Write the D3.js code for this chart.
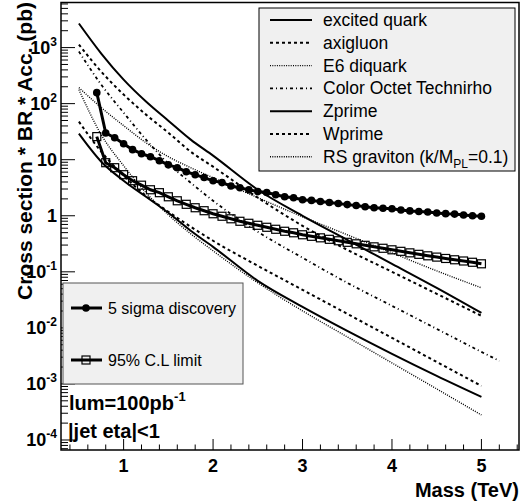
<!DOCTYPE html>
<html><head><meta charset="utf-8">
<script src="https://cdn.jsdelivr.net/npm/d3@7"></script>
<style>
html,body{margin:0;padding:0;background:#fff;}
svg{display:block;font-family:"Liberation Sans",Arial,Helvetica,sans-serif;}
</style></head>
<body>
<svg id="c" width="521" height="504"></svg>
<script>
// ---- data (cross section * BR * Acc in pb vs mass in TeV) ----
const theoryMass = [0.5,0.75,1.0,1.25,1.5,1.75,2.0,2.5,3.0,3.5,4.0,4.5,5.0];
const excitedQuark = [2685,782,268,109,49.6,22.8,11.8,2.91,1.0,0.372,0.139,0.0518,0.0185];
const axigluon     = [1132,372,145,63.7,30.3,13.9,7.5,2.1,0.663,0.247,0.100,0.0405,0.0164];
const e6Diquark    = [193,84.9,40.5,20.1,11.3,7.2,4.77,2.1,0.96,0.458,0.218,0.104,0.0518];
const technirhoMass = [0.5,0.75,1.0,1.25,1.5,1.75,2.0,2.5,3.0,3.5,4.0,4.5,5.0,5.2];
const technirho    = [848,218,69,22.8,8.49,3.88,1.85,0.518,0.178,0.0637,0.0247,0.0096,0.00373,0.00258];
const zprime       = [29.1,9.2,4.22,2.18,1.13,0.54,0.279,0.069,0.0237,0.00884,0.00344,0.00139,0.000586];
const wprime       = [47.7,13.9,5.18,2.28,1.18,0.637,0.358,0.128,0.0477,0.0178,0.00663,0.00247,0.00092];
const rsGraviton   = [178,27.9,7.81,2.58,1.04,0.477,0.237,0.0637,0.0201,0.0069,0.00237,0.000815,0.000279];

const sensMass = [0.7,0.8,0.9,1.0,1.1,1.2,1.3,1.4,1.5,1.6,1.7,1.8,1.9,2.0,2.1,2.2,2.3,2.4,2.5,2.6,2.7,2.8,2.9,3.0,
  3.1,3.2,3.3,3.4,3.5,3.6,3.7,3.8,3.9,4.0,4.1,4.2,4.3,4.4,4.5,4.6,4.7,4.8,4.9,5.0];
const discovery5sigma = [157,30,24.7,19.3,15.1,12.8,11.3,9.6,8.1,7.2,6.1,5.4,4.8,4.2,3.9,3.4,3.16,2.9,2.7,2.6,2.37,2.18,2.1,1.93,
  1.88,1.8,1.72,1.65,1.58,1.52,1.45,1.39,1.36,1.33,1.27,1.22,1.19,1.17,1.12,1.09,1.07,1.03,1.0,0.98];
const limit95 = [25.8,8.84,7.2,5.4,4.22,3.51,2.91,2.58,2.18,1.85,1.6,1.39,1.23,1.086,0.98,0.883,0.797,0.734,0.676,0.623,0.574,0.529,0.497,0.458,
  0.43,0.404,0.38,0.358,0.336,0.316,0.297,0.279,0.263,0.247,0.232,0.218,0.205,0.193,0.183,0.173,0.164,0.156,0.148,0.139];

const xTicks = [1,2,3,4,5];
const yTickExp = [3,2,1,0,-1,-2,-3,-4];
const theoryNames = ["excited quark","axigluon","E6 diquark","Color Octet Technirho","Zprime","Wprime","RS graviton"];

// ---- layout ----
const svg = d3.select("#c");
svg.append("rect").attr("width",521).attr("height",504).attr("fill","#fff");
const L=61, R=519, T=2.5, B=450;
const x = d3.scaleLinear().domain([0.3,5.42]).range([L,R]);
const y = d3.scaleLog().domain([6.63e-5,6370]).range([B,T]);

const styles = {
  solid:{w:2,d:null},
  dashed:{w:2,d:"3,3"},
  dotted:{w:1.4,d:"1,1.3"},
  dashdot:{w:1.8,d:"3,3,1,3"}
};
const theory = [
  {name:theoryNames[0], m:theoryMass, v:excitedQuark, s:"solid"},
  {name:theoryNames[1], m:theoryMass, v:axigluon, s:"dashed"},
  {name:theoryNames[2], m:theoryMass, v:e6Diquark, s:"dotted"},
  {name:theoryNames[3], m:technirhoMass, v:technirho, s:"dashdot"},
  {name:theoryNames[4], m:theoryMass, v:zprime, s:"solid"},
  {name:theoryNames[5], m:theoryMass, v:wprime, s:"dashed"},
  {name:theoryNames[6], m:theoryMass, v:rsGraviton, s:"dotted"}
];

svg.append("clipPath").attr("id","pc").append("rect")
  .attr("x",L).attr("y",T).attr("width",R-L).attr("height",B-T);
const plot = svg.append("g").attr("clip-path","url(#pc)");
const line = d3.line().x(d=>x(d[0])).y(d=>y(d[1])).curve(d3.curveMonotoneX);

theory.forEach(t=>{
  const st = styles[t.s];
  plot.append("path").datum(t.m.map((m,i)=>[m,t.v[i]]))
    .attr("d",line).attr("fill","none").attr("stroke","#000")
    .attr("stroke-width",st.w).attr("stroke-dasharray",st.d);
});

const lineLin = d3.line().x(d=>x(d[0])).y(d=>y(d[1]));
// 5 sigma discovery
const dData = sensMass.map((m,i)=>[m,discovery5sigma[i]]);
plot.append("path").datum(dData).attr("d",lineLin).attr("fill","none").attr("stroke","#000").attr("stroke-width",3);
plot.selectAll("circle.d").data(dData).join("circle").attr("class","d")
  .attr("cx",d=>x(d[0])).attr("cy",d=>y(d[1])).attr("r",3.8).attr("fill","#000");
// 95% CL
const lData = sensMass.map((m,i)=>[m,limit95[i]]);
plot.append("path").datum(lData).attr("d",lineLin).attr("fill","none").attr("stroke","#000").attr("stroke-width",3);
plot.selectAll("rect.l").data(lData).join("rect").attr("class","l")
  .attr("x",d=>x(d[0])-4).attr("y",d=>y(d[1])-4).attr("width",8).attr("height",8)
  .attr("fill","none").attr("stroke","#000").attr("stroke-width",1.2);

// ---- axes ----
const ax = svg.append("g");
ax.append("rect").attr("x",L).attr("y",T).attr("width",R-L).attr("height",B-T)
  .attr("fill","none").attr("stroke","#000").attr("stroke-width",1.5);
const xMinor = d3.range(0.4,5.41,0.2).filter(v=>Math.abs(v-Math.round(v))>0.01);
ax.selectAll("line.xm").data(xMinor).join("line").attr("x1",d=>x(d)).attr("x2",d=>x(d))
  .attr("y1",B).attr("y2",B-5.5).attr("stroke","#000").attr("stroke-width",1);
ax.selectAll("line.xM").data(xTicks).join("line").attr("x1",d=>x(d)).attr("x2",d=>x(d))
  .attr("y1",B).attr("y2",B-11).attr("stroke","#000").attr("stroke-width",1);
ax.selectAll("text.xl").data(xTicks).join("text").attr("x",d=>x(d)).attr("y",472)
  .attr("text-anchor","middle").attr("font-size",18).attr("font-weight","bold").text(d=>d);
const yMinor=[];
for(let e=-5;e<=3;e++) for(let k=2;k<=9;k++){const v=k*Math.pow(10,e); if(v>y.domain()[0]&&v<y.domain()[1]) yMinor.push(v);}
ax.selectAll("line.ym").data(yMinor).join("line").attr("x1",L).attr("x2",L+7)
  .attr("y1",d=>y(d)).attr("y2",d=>y(d)).attr("stroke","#000").attr("stroke-width",1);
ax.selectAll("line.yM").data(yTickExp).join("line").attr("x1",L).attr("x2",L+14)
  .attr("y1",d=>y(Math.pow(10,d))).attr("y2",d=>y(Math.pow(10,d))).attr("stroke","#000").attr("stroke-width",1);
yTickExp.forEach(e=>{
  const t = ax.append("text").attr("x",57).attr("y",y(Math.pow(10,e))+6.5)
    .attr("text-anchor","end").attr("font-size",18).attr("font-weight","bold");
  if(e===0){t.text("1");}
  else if(e===1){t.text("10");}
  else {t.append("tspan").text("10"); t.append("tspan").attr("dy",-8).attr("font-size",12).text(String(e));}
});
svg.append("text").attr("transform","translate(32,2) rotate(-90)").attr("text-anchor","end")
  .attr("font-size",21).attr("font-weight","bold").text("Cross section * BR * Acc. (pb)");
svg.append("text").attr("x",519).attr("y",497).attr("text-anchor","end")
  .attr("font-size",20).attr("font-weight","bold").text("Mass (TeV)");

// ---- theory legend ----
const lg = svg.append("g");
lg.append("rect").attr("x",259).attr("y",8).attr("width",256).attr("height",163)
  .attr("fill","#f0f0f0").attr("stroke","#000").attr("stroke-width",1);
theory.forEach((t,i)=>{
  const cy = 20 + i*22.8, st = styles[t.s];
  lg.append("line").attr("x1",270).attr("x2",312).attr("y1",cy).attr("y2",cy)
    .attr("stroke","#000").attr("stroke-width",st.w).attr("stroke-dasharray",st.d);
  const tx = lg.append("text").attr("x",323).attr("y",cy+6).attr("font-size",17.5);
  if(i===6){
    tx.append("tspan").text("RS graviton (k/M");
    tx.append("tspan").attr("dy",5).attr("font-size",12).text("PL");
    tx.append("tspan").attr("dy",-5).text("=0.1)");
  } else tx.text(t.name);
});

// ---- sensitivity legend ----
const lg2 = svg.append("g");
lg2.append("rect").attr("x",63).attr("y",283).attr("width",180).attr("height",101)
  .attr("fill","#f0f0f0").attr("stroke","#555").attr("stroke-width",1);
[[308,"5 sigma discovery","c"],[360,"95% C.L limit","s"]].forEach(([cy,label,mk])=>{
  lg2.append("line").attr("x1",71).attr("x2",102).attr("y1",cy).attr("y2",cy).attr("stroke","#000").attr("stroke-width",3);
  if(mk==="c") lg2.append("circle").attr("cx",86).attr("cy",cy).attr("r",3.8).attr("fill","#000");
  else lg2.append("rect").attr("x",82).attr("y",cy-4).attr("width",8).attr("height",8).attr("fill","none").attr("stroke","#000").attr("stroke-width",1.2);
  lg2.append("text").attr("x",108).attr("y",cy+6).attr("font-size",16).text(label);
});

// ---- annotations ----
const a1 = svg.append("text").attr("x",69).attr("y",410).attr("font-size",20).attr("font-weight","bold");
a1.append("tspan").text("lum=100pb");
a1.append("tspan").attr("dy",-9).attr("font-size",13).text("-1");
svg.append("text").attr("x",68).attr("y",438).attr("font-size",20).attr("font-weight","bold").text("|jet eta|<1");
</script>
</body></html>
